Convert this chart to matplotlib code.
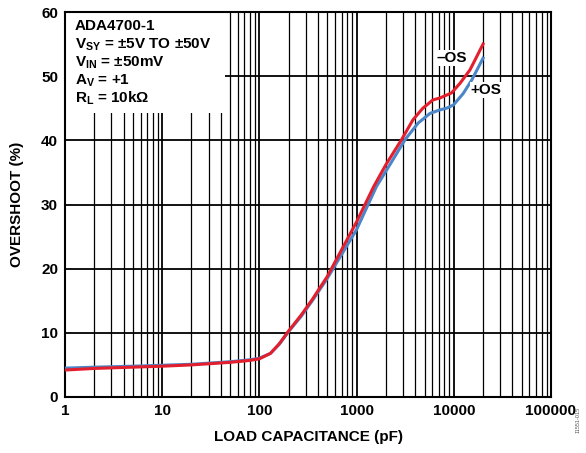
import matplotlib
matplotlib.use("Agg")
import matplotlib.pyplot as plt
from matplotlib.patches import Rectangle
from matplotlib.ticker import LogLocator, NullFormatter, FixedLocator, FixedFormatter

plt.rcParams['font.family'] = ['Liberation Sans', 'DejaVu Sans']
plt.rcParams['font.weight'] = 'bold'
plt.rcParams['mathtext.fontset'] = 'custom'
plt.rcParams['mathtext.rm'] = 'Liberation Sans:bold'
plt.rcParams['mathtext.bf'] = 'Liberation Sans:bold'
plt.rcParams['mathtext.it'] = 'Liberation Sans:bold'

# Data (load capacitance in pF, overshoot in %)
neg_cap = [1, 2, 5, 10, 20, 50, 80, 100, 130, 160, 200, 270, 350, 500, 1000, 1500,
           2000, 2900, 3800, 4800, 6100, 7200, 9500, 11600, 14700, 20000]
neg_os = [4.2, 4.45, 4.65, 4.8, 5.0, 5.4, 5.7, 5.95, 6.8, 8.3, 10.3, 12.8, 15.2, 18.8, 27.3, 32.8,
          36.2, 40.1, 43.2, 45.0, 46.3, 46.6, 47.4, 48.9, 51.0, 55.0]
pos_cap = [1, 2, 5, 10, 20, 50, 80, 100, 130, 160, 200, 270, 350, 500, 1000, 1600,
           2200, 3150, 4300, 5700, 7200, 8400, 9900, 12500, 15300, 20000]
pos_os = [4.5, 4.65, 4.8, 4.95, 5.1, 5.5, 5.8, 6.05, 6.8, 8.2, 10.2, 12.6, 15.0, 18.5, 26.1, 32.8,
          36.2, 40.1, 42.7, 44.2, 44.75, 45.0, 45.5, 47.3, 49.4, 52.8]

x_ticks = [1, 10, 100, 1000, 10000, 100000]
x_tick_labels = ["1", "10", "100", "1000", "10000", "100000"]
y_ticks = [0, 10, 20, 30, 40, 50, 60]

info_lines = ["ADA4700-1",
              r"V$_{SY}$ = ±5V TO ±50V",
              r"V$_{IN}$ = ±50mV",
              r"A$_{V}$ = +1",
              r"R$_{L}$ = 10kΩ"]

fig = plt.figure(figsize=(5.86, 4.53), dpi=100)
ax = fig.add_axes([65/586, 56/453, 486/586, 385/453])

ax.set_xscale('log')
ax.set_xlim(1, 100000)
ax.set_ylim(0, 60)

ax.xaxis.set_major_locator(FixedLocator(x_ticks))
ax.xaxis.set_major_formatter(FixedFormatter(x_tick_labels))
ax.xaxis.set_minor_locator(LogLocator(base=10, subs=range(2, 10)))
ax.xaxis.set_minor_formatter(NullFormatter())
ax.set_yticks(y_ticks)
ax.set_yticklabels([str(v) for v in y_ticks])

ax.set_axisbelow(True)
ax.grid(True, which='major', axis='both', color='black', linewidth=1.3)
ax.grid(True, which='minor', axis='x', color='black', linewidth=0.9)
ax.tick_params(which='both', length=0, labelsize=11, pad=5)
for lab in ax.get_xticklabels() + ax.get_yticklabels():
    lab.set_fontweight('bold')

for sp in ax.spines.values():
    sp.set_linewidth(1.5)
    sp.set_color('black')

ax.plot(pos_cap, pos_os, color='#4a86c8', linewidth=2.2, zorder=3)
ax.plot(neg_cap, neg_os, color='#e31e2d', linewidth=2.2, zorder=4)

# white info box
ax.add_patch(Rectangle((0, 0.738), 0.329, 0.262, transform=ax.transAxes,
                       facecolor='white', edgecolor='none', zorder=1.5))
y0 = 0.952
for i, t in enumerate(info_lines):
    ax.text(0.0206, y0 - i * 0.0468, t, transform=ax.transAxes, fontsize=11,
            fontweight='bold', va='baseline', ha='left', zorder=5)

ax.text(9470, 52.85, "–OS", fontsize=11, fontweight='bold', ha='center', va='center',
        zorder=5, bbox=dict(facecolor='white', edgecolor='none', pad=0.8))
ax.text(21450, 47.8, "+OS", fontsize=11, fontweight='bold', ha='center', va='center',
        zorder=5, bbox=dict(facecolor='white', edgecolor='none', pad=0.8))

ax.set_xlabel("LOAD CAPACITANCE (pF)", fontsize=11, fontweight='bold', labelpad=9)
ax.set_ylabel("OVERSHOOT (%)", fontsize=11, fontweight='bold', labelpad=12)

fig.text(578/586, 1 - 420/453, "11551-015", rotation=90, fontsize=4, color='#555555',
         ha='center', va='center', fontweight='normal')

fig.savefig("out.png", dpi=100)
